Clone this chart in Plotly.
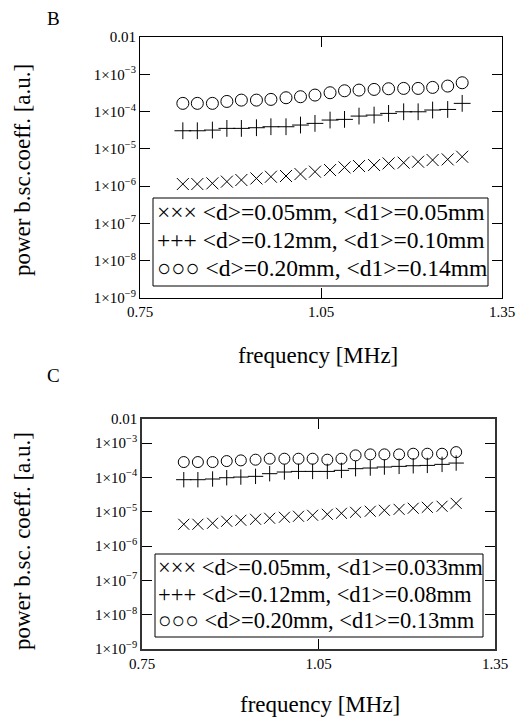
import plotly.graph_objects as go

# ---- data ----
freq = [0.821, 0.845, 0.870, 0.894, 0.918, 0.943, 0.967, 0.992, 1.016, 1.040,
        1.065, 1.089, 1.113, 1.138, 1.162, 1.187, 1.211, 1.235, 1.260, 1.284]

b_x = [1.14e-6, 1.14e-6, 1.19e-6, 1.32e-6, 1.46e-6, 1.61e-6, 1.79e-6, 1.87e-6, 2.11e-6, 2.44e-6,
       2.70e-6, 3.18e-6, 3.46e-6, 3.68e-6, 4.07e-6, 4.25e-6, 4.52e-6, 5.01e-6, 5.22e-6, 6.15e-6]
b_plus = [3.06e-5, 3.06e-5, 3.19e-5, 3.54e-5, 3.54e-5, 3.69e-5, 3.92e-5, 3.92e-5, 4.35e-5, 4.82e-5,
          5.92e-5, 6.17e-5, 7.57e-5, 8.05e-5, 8.93e-5, 9.88e-5, 9.88e-5, 1.10e-4, 1.14e-4, 1.66e-4]
b_o = [1.66e-4, 1.66e-4, 1.66e-4, 1.87e-4, 2.03e-4, 2.03e-4, 2.12e-4, 2.35e-4, 2.50e-4, 2.77e-4,
       3.20e-4, 3.61e-4, 3.77e-4, 3.93e-4, 4.09e-4, 4.18e-4, 4.18e-4, 4.45e-4, 4.83e-4, 5.93e-4]

c_x = [4.30e-6, 4.30e-6, 4.60e-6, 5.26e-6, 5.62e-6, 6.01e-6, 6.43e-6, 6.87e-6, 7.35e-6, 7.86e-6,
       8.40e-6, 8.98e-6, 9.61e-6, 1.03e-5, 1.10e-5, 1.17e-5, 1.26e-5, 1.34e-5, 1.44e-5, 1.75e-5]
c_plus = [8.55e-5, 8.55e-5, 8.95e-5, 9.77e-5, 1.02e-4, 1.07e-4, 1.28e-4, 1.43e-4, 1.49e-4, 1.49e-4,
          1.49e-4, 1.60e-4, 1.79e-4, 1.87e-4, 2.00e-4, 2.09e-4, 2.18e-4, 2.23e-4, 2.39e-4, 2.61e-4]
c_o = [2.79e-4, 2.79e-4, 2.79e-4, 2.98e-4, 3.12e-4, 3.27e-4, 3.49e-4, 3.49e-4, 3.49e-4, 3.49e-4,
       3.27e-4, 3.49e-4, 4.37e-4, 4.67e-4, 4.67e-4, 4.67e-4, 4.88e-4, 4.88e-4, 4.88e-4, 5.44e-4]

b_labels = ["&lt;d&gt;=0.05mm, &lt;d1&gt;=0.05mm",
            "&lt;d&gt;=0.12mm, &lt;d1&gt;=0.10mm",
            "&lt;d&gt;=0.20mm, &lt;d1&gt;=0.14mm"]
c_labels = ["&lt;d&gt;=0.05mm, &lt;d1&gt;=0.033mm",
            "&lt;d&gt;=0.12mm, &lt;d1&gt;=0.08mm",
            "&lt;d&gt;=0.20mm, &lt;d1&gt;=0.13mm"]
prefixes = ["×××", "+++", "○○○"]

x_ticks = [0.75, 1.05, 1.35]
x_ticktext = ["0.75", "1.05", "1.35"]
y_ticks_b = [1e-9, 1e-8, 1e-7, 1e-6, 1e-5, 1e-4, 1e-3, 1e-2]
y_ticks_c = [1e-9, 1e-8, 1e-7, 1e-6, 1e-5, 1e-4, 1e-3, 10 ** -2.3]
y_ticktext = ["1×10<sup>−9</sup>", "1×10<sup>−8</sup>", "1×10<sup>−7</sup>", "1×10<sup>−6</sup>",
              "1×10<sup>−5</sup>", "1×10<sup>−4</sup>", "1×10<sup>−3</sup>", "0.01"]

# page body has an 8px margin, so the figure is drawn from (8, 8)
OFF = 8
W, H = 531 - OFF, 718 - OFF
FONT = "Liberation Serif"

fig = go.Figure()

def add_series(xaxis, yaxis, ys, size):
    syms = ["x-thin", "cross-thin", "circle-open"]
    for y, s in zip(ys, syms):
        fig.add_trace(go.Scatter(
            x=freq, y=y, mode="markers", xaxis=xaxis, yaxis=yaxis, showlegend=False,
            marker=dict(symbol=s, size=size, color="black",
                        line=dict(color="black", width=1))))

add_series("x", "y", [b_x, b_plus, b_o], 12)
add_series("x2", "y2", [c_x, c_plus, c_o], 11)

def px_x(p):
    return (p - OFF) / W

def px_y(p):
    return 1 - (p - OFF) / H

tickfont = dict(family=FONT, size=15, color="black")
common_x = dict(range=[0.75, 1.35], tickvals=x_ticks, ticktext=x_ticktext, ticks="inside",
                ticklen=10, mirror="ticks", showline=True, showgrid=False, zeroline=False,
                tickfont=tickfont, tickcolor="black", automargin=False)
common_y = dict(type="log", ticks="inside", ticklen=10, mirror="ticks", showline=True,
                showgrid=False, zeroline=False, tickfont=tickfont, tickcolor="black",
                ticktext=y_ticktext, automargin=False)

fig.update_layout(
    width=W, height=H, autosize=False, margin=dict(l=0, r=0, t=0, b=0, pad=0),
    paper_bgcolor="white", plot_bgcolor="white",
    font=dict(family=FONT, color="black"),
    xaxis=dict(domain=[px_x(140), px_x(502)], anchor="y", linecolor="black", linewidth=1, **common_x),
    yaxis=dict(domain=[px_y(298), px_y(37)], anchor="x", range=[-9, -2], tickvals=y_ticks_b,
               linecolor="black", linewidth=1, **common_y),
    xaxis2=dict(domain=[px_x(142), px_x(495)], anchor="y2", linecolor="#333", linewidth=1.5, **common_x),
    yaxis2=dict(domain=[px_y(649), px_y(419)], anchor="x2", range=[-9, -2.3], tickvals=y_ticks_c,
                linecolor="#333", linewidth=1.5, **common_y),
)

annos = []
shapes = []

def label(text, x, y, size, angle=0, xanchor="center"):
    annos.append(dict(text=text, x=px_x(x), y=px_y(y), xref="paper", yref="paper",
                      xanchor=xanchor, yanchor="middle", showarrow=False, textangle=angle,
                      font=dict(family=FONT, size=size, color="black")))

# panel letters
label("B", 53, 19, 19)
label("C", 53, 375, 19)
# axis titles
label("frequency [MHz]", 318, 355, 23)
label("frequency [MHz]", 320, 704, 23)
label("power b.sc.coeff. [a.u.]", 22, 170, 23, -90)
label("power b.sc. coeff. [a.u.]", 22, 541, 23, -90)

def legend_box(x0, y0, x1, y1, tx, rows, labels, size):
    shapes.append(dict(type="rect", xref="paper", yref="paper",
                       x0=px_x(x0), x1=px_x(x1), y0=px_y(y1), y1=px_y(y0),
                       line=dict(color="black", width=1), fillcolor="white", layer="above"))
    for p, l, ry in zip(prefixes, labels, rows):
        label(f"{p} {l}", tx, ry, size, xanchor="left")

legend_box(153, 198, 488, 286, 155, [212, 240, 268], b_labels, 23.5)
legend_box(155, 554, 483, 637, 156, [567, 594, 620], c_labels, 22.5)

fig.update_layout(annotations=annos, shapes=shapes)
fig.write_html("out.html")
